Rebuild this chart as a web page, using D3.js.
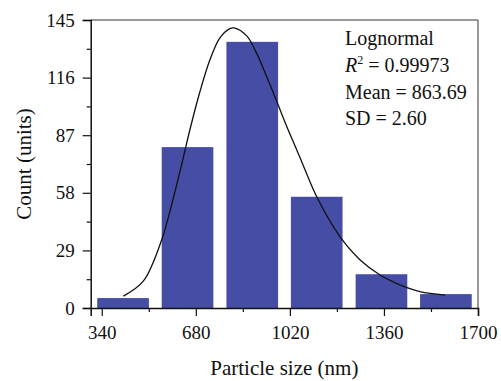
<!DOCTYPE html>
<html>
<head>
<meta charset="utf-8">
<script src="https://cdn.jsdelivr.net/npm/d3@7"></script>
<style>
  html, body { margin: 0; padding: 0; background: #fff; }
  svg { display: block; }
  text { font-family: "Liberation Serif", "Times New Roman", serif; fill: #111; }
</style>
</head>
<body>
<svg id="chart" width="501" height="381"></svg>
<script>
// Histogram bins: centre of each particle-size bin (nm) and the counts
const binCenters = [417, 650, 884, 1117, 1351, 1584];
const counts = [5, 81, 134, 56, 17, 7];
const binSpacing = 233.4;

// Lognormal fit curve, sampled (size nm, count)
const fitX = [418, 490, 557, 599, 631, 659, 695, 731, 767, 803, 818, 864, 900, 936, 972, 1009, 1045, 1075, 1117, 1201, 1274, 1346, 1418, 1490, 1581];
const fitY = [6.0, 13.5, 34.5, 55.5, 73.5, 90.0, 109.0, 125.0, 136.0, 140.7, 141.0, 137.0, 128.2, 116.5, 104.2, 91.3, 79.6, 69.5, 56.0, 35.9, 24.2, 16.6, 11.6, 8.2, 6.5];

// Axis ticks
const xTicks = [340, 680, 1020, 1360, 1700];
const xMinorTicks = [510, 850, 1190, 1530];
const yTicks = [0, 29, 58, 87, 116, 145];
const yMinorTicks = [14.5, 43.5, 72.5, 101.5, 130.5];

// Fit annotation lines
const fitName = "Lognormal";
const fitR2 = "0.99973";
const fitMean = "863.69";
const fitSD = "2.60";

const margin = { left: 90.7, right: 23, top: 20, bottom: 73 };
const W = 501, H = 381;
const svg = d3.select("#chart");

const x = d3.scaleLinear().domain([300, 1700]).range([margin.left, W - margin.right]);
const y = d3.scaleLinear().domain([0, 145]).range([H - margin.bottom, margin.top]);

const barColor = "#454ea4";
const barW = x(binSpacing * 0.8) - x(0);

// Bars
svg.append("g").selectAll("rect")
  .data(counts)
  .join("rect")
  .attr("x", (d, i) => x(binCenters[i]) - barW / 2)
  .attr("width", barW)
  .attr("y", d => y(d))
  .attr("height", d => y(0) - y(d))
  .attr("fill", barColor);

// Fit curve
const pts = fitX.map((v, i) => [v, fitY[i]]);
svg.append("path")
  .datum(pts)
  .attr("fill", "none")
  .attr("stroke", "#111")
  .attr("stroke-width", 1.3)
  .attr("d", d3.line().x(d => x(d[0])).y(d => y(d[1])).curve(d3.curveCatmullRom.alpha(0.5)));

// Frame: top and right
svg.append("line").attr("x1", x(300)).attr("x2", x(1700)).attr("y1", y(145)).attr("y2", y(145))
  .attr("stroke", "#333").attr("stroke-width", 1.2);
svg.append("line").attr("x1", x(1700)).attr("x2", x(1700)).attr("y1", y(145)).attr("y2", y(0))
  .attr("stroke", "#555").attr("stroke-width", 1.2);

const tickFont = "Liberation Serif";

// X axis
const xAxis = svg.append("g").attr("transform", `translate(0,${y(0)})`)
  .call(d3.axisBottom(x).tickValues(xTicks).tickSize(8).tickPadding(9.5).tickFormat(d3.format("d")));
xAxis.select(".domain").attr("stroke", "#111").attr("stroke-width", 1.5);
xAxis.selectAll(".tick line").attr("stroke", "#111").attr("stroke-width", 1.2);
xAxis.selectAll(".tick text").attr("font-size", 19).attr("font-family", tickFont).attr("fill", "#111");
svg.append("g").attr("transform", `translate(0,${y(0)})`)
  .call(d3.axisBottom(x).tickValues(xMinorTicks).tickSize(4).tickFormat(""))
  .call(g => g.select(".domain").remove())
  .selectAll(".tick line").attr("stroke", "#111").attr("stroke-width", 1.2);

// Y axis
const yAxis = svg.append("g").attr("transform", `translate(${x(300)},0)`)
  .call(d3.axisLeft(y).tickValues(yTicks).tickSize(8).tickPadding(8).tickFormat(d3.format("d")));
yAxis.select(".domain").attr("stroke", "#111").attr("stroke-width", 1.5);
yAxis.selectAll(".tick line").attr("stroke", "#111").attr("stroke-width", 1.2);
yAxis.selectAll(".tick text").attr("font-size", 19).attr("font-family", tickFont).attr("fill", "#111");
svg.append("g").attr("transform", `translate(${x(300)},0)`)
  .call(d3.axisLeft(y).tickValues(yMinorTicks).tickSize(4).tickFormat(""))
  .call(g => g.select(".domain").remove())
  .selectAll(".tick line").attr("stroke", "#111").attr("stroke-width", 1.2);

// Axis titles
svg.append("text")
  .attr("x", (x(300) + x(1700)) / 2).attr("y", 375)
  .attr("text-anchor", "middle").attr("font-size", 21)
  .text("Particle size (nm)");
svg.append("text")
  .attr("transform", `translate(31,${(y(0) + y(145)) / 2}) rotate(-90)`)
  .attr("text-anchor", "middle").attr("font-size", 21)
  .text("Count (units)");

// Fit annotation
const ann = svg.append("g").attr("font-size", 20);
ann.append("text").attr("x", 345).attr("y", 45).text(fitName);
const r2 = ann.append("text").attr("x", 345).attr("y", 72);
r2.append("tspan").attr("font-style", "italic").text("R");
r2.append("tspan").attr("font-size", 12).attr("dy", -8).text("2");
r2.append("tspan").attr("dy", 8).text(" = " + fitR2);
ann.append("text").attr("x", 345).attr("y", 99).text("Mean = " + fitMean);
ann.append("text").attr("x", 345).attr("y", 125).text("SD = " + fitSD);
</script>
</body>
</html>
